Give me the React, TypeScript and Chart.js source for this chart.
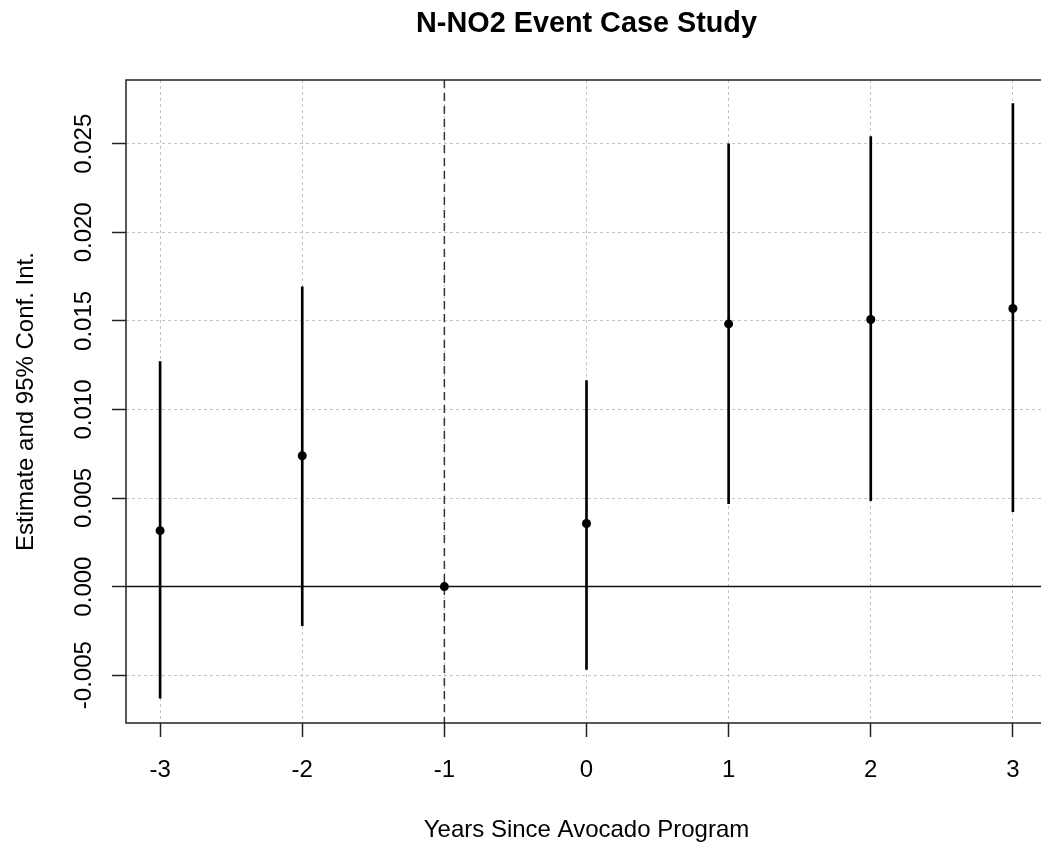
import React, { useEffect, useRef } from "react";
import { Chart, registerables } from "chart.js";

Chart.register(...registerables);

const TITLE = "N-NO2 Event Case Study";
const X_TITLE = "Years Since Avocado Program";
const Y_TITLE = "Estimate and 95% Conf. Int.";

const YEARS = [-3, -2, -1, 0, 1, 2, 3];
const ESTIMATES = [0.00316, 0.00739, 0, 0.00356, 0.01483, 0.01508, 0.0157];
const CI_YEARS = [-3, -2, 0, 1, 2, 3];
const CI_LOWER = [-0.0063, -0.0022, -0.00468, 0.00468, 0.00485, 0.00423];
const CI_UPPER = [0.0127, 0.01693, 0.01163, 0.025, 0.0254, 0.02727];

const X_TICKS = [-3, -2, -1, 0, 1, 2, 3];
const X_TICK_LABELS = ["-3", "-2", "-1", "0", "1", "2", "3"];
const Y_TICKS = [-0.005, 0, 0.005, 0.01, 0.015, 0.02, 0.025];
const Y_TICK_LABELS = ["-0.005", "0.000", "0.005", "0.010", "0.015", "0.020", "0.025"];
const EVENT_YEAR = -1;

const FONT = "'Liberation Sans', Arial, sans-serif";

const rPlot = {
  id: "rPlot",
  beforeDatasetsDraw(chart: any) {
    const { ctx, chartArea, scales } = chart;
    const xs = scales.x, ys = scales.y;
    ctx.save();
    ctx.strokeStyle = "#111";
    ctx.lineWidth = 1.5;
    ctx.setLineDash([]);
    const y0 = ys.getPixelForValue(0);
    ctx.beginPath();
    ctx.moveTo(chartArea.left, y0);
    ctx.lineTo(chartArea.right, y0);
    ctx.stroke();
    const xe = xs.getPixelForValue(EVENT_YEAR);
    ctx.strokeStyle = "#333";
    ctx.setLineDash([8, 5]);
    ctx.beginPath();
    ctx.moveTo(xe, chartArea.top);
    ctx.lineTo(xe, chartArea.bottom);
    ctx.stroke();
    ctx.restore();
  },
  afterDraw(chart: any) {
    const { ctx, chartArea, scales } = chart;
    const xs = scales.x, ys = scales.y;
    ctx.save();
    ctx.setLineDash([]);
    ctx.strokeStyle = "#222";
    ctx.lineWidth = 1.5;
    ctx.strokeRect(
      chartArea.left,
      chartArea.top,
      chartArea.right - chartArea.left,
      chartArea.bottom - chartArea.top
    );
    ctx.fillStyle = "#000";
    ctx.font = `bold 28.8px ${FONT}`;
    ctx.textAlign = "center";
    ctx.textBaseline = "alphabetic";
    const cx = (chartArea.left + chartArea.right) / 2;
    ctx.fillText(TITLE, cx, 32);
    ctx.font = `24px ${FONT}`;
    X_TICKS.forEach((v, i) => {
      ctx.fillText(X_TICK_LABELS[i], xs.getPixelForValue(v), 777);
    });
    ctx.fillText(X_TITLE, cx, 837);
    Y_TICKS.forEach((v, i) => {
      ctx.save();
      ctx.translate(91, ys.getPixelForValue(v));
      ctx.rotate(-Math.PI / 2);
      ctx.fillText(Y_TICK_LABELS[i], 0, 0);
      ctx.restore();
    });
    ctx.save();
    ctx.translate(33, (chartArea.top + chartArea.bottom) / 2);
    ctx.rotate(-Math.PI / 2);
    ctx.fillText(Y_TITLE, 0, 0);
    ctx.restore();
    ctx.restore();
  },
};

export default function App() {
  const ref = useRef<HTMLCanvasElement | null>(null);
  useEffect(() => {
    document.body.style.overflow = "hidden";
    const canvas = ref.current!;
    const gridOpts = {
      color: "#c4c4c4",
      lineWidth: 1,
      offset: false,
      drawTicks: true,
      tickLength: 14,
      tickColor: "#222",
      tickWidth: 1.5,
      tickBorderDash: [],
    };
    const chart = new Chart(canvas, {
      type: "bar",
      data: {
        datasets: [
          {
            type: "scatter",
            label: "Estimate",
            data: YEARS.map((x, i) => ({ x, y: ESTIMATES[i] })),
            pointRadius: 4.5,
            pointBackgroundColor: "#000",
            pointBorderWidth: 0,
            order: 0,
          } as any,
          {
            type: "bar",
            label: "95% CI",
            data: CI_YEARS.map((x, i) => ({ x, y: [CI_LOWER[i], CI_UPPER[i]] })),
            backgroundColor: "#000",
            borderWidth: 0,
            barThickness: 2,
            grouped: false,
            order: 1,
          } as any,
        ],
      },
      options: {
        responsive: false,
        animation: false,
        devicePixelRatio: 1,
        layout: { padding: { top: 80, right: 13, left: 0, bottom: 0 } },
        plugins: {
          legend: { display: false },
          tooltip: { enabled: false },
          title: { display: false },
        },
        scales: {
          x: {
            type: "linear",
            offset: false,
            min: -3.24,
            max: 3.24,
            afterBuildTicks: (s: any) => {
              s.ticks = X_TICKS.map((v) => ({ value: v }));
            },
            afterFit: (s: any) => {
              s.height = 123;
            },
            ticks: { display: false },
            grid: gridOpts,
            border: { display: false, dash: [3, 3] },
          },
          y: {
            type: "linear",
            offset: false,
            min: -0.0077,
            max: 0.0286,
            afterBuildTicks: (s: any) => {
              s.ticks = Y_TICKS.map((v) => ({ value: v }));
            },
            afterFit: (s: any) => {
              s.width = 126;
            },
            ticks: { display: false },
            grid: gridOpts,
            border: { display: false, dash: [3, 3] },
          },
        },
      } as any,
      plugins: [rPlot],
    });
    return () => chart.destroy();
  }, []);
  return (
    <div style={{ position: "fixed", left: 0, top: 0, background: "#fff" }}>
      <canvas ref={ref} width={1060} height={846} style={{ display: "block" }} />
    </div>
  );
}
